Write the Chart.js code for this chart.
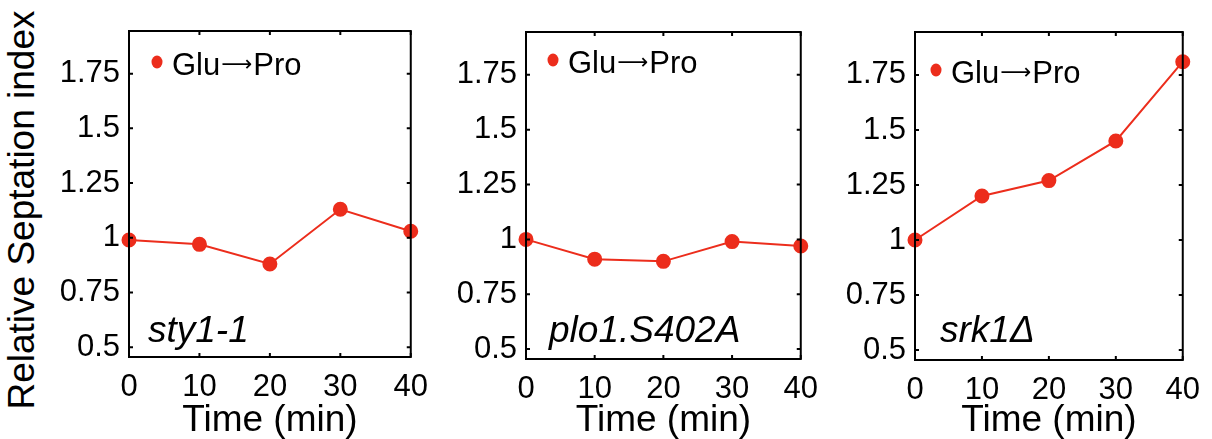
<!DOCTYPE html>
<html>
<head>
<meta charset="utf-8">
<script src="https://cdn.jsdelivr.net/npm/chart.js@4/dist/chart.umd.min.js"></script>
<style>
  body { margin: 0; background: #fff; }
  #wrap { position: relative; width: 1212px; height: 439px; overflow: hidden; }
  .panel { position: absolute; top: 0; height: 439px; }
  #ytitle {
    position: absolute; left: 22px; top: 210px;
    transform: translate(-50%, -50%) rotate(-90deg);
    font: 37px "Liberation Sans", Arial, Helvetica, sans-serif;
    white-space: nowrap; color: #000;
  }
</style>
</head>
<body>
<div id="wrap">
  <div id="ytitle">Relative Septation index</div>
  <canvas id="c1" class="panel"></canvas>
  <canvas id="c2" class="panel"></canvas>
  <canvas id="c3" class="panel"></canvas>
</div>
<script>
// data
var times = [0, 10, 20, 30, 40];
var sty1 = [0.99, 0.97, 0.88, 1.13, 1.03];
var plo1 = [1.00, 0.91, 0.90, 0.99, 0.97];
var srk1 = [1.00, 1.20, 1.27, 1.45, 1.81];
var strains = ['sty1-1', 'plo1.S402A', 'srk1\u0394'];
var seriesLabel = ['Glu', '\u27F6', 'Pro'];
var yTicks = [0.5, 0.75, 1, 1.25, 1.5, 1.75];
var yTickLabels = ['0.5', '0.75', '1', '1.25', '1.5', '1.75'];
var xTicks = [0, 10, 20, 30, 40];

var RED = '#ec2d1c';
var FONT = '"Liberation Sans", Arial, Helvetica, sans-serif';

// layout of each panel (canvas left/width and plot box)
var panels = [
  { id: 'c1', data: sty1, left: 40,  width: 400, box: { l: 129, r: 413, t: 31, b: 357 }, leg: { dx: 28, dy: 31 }, lab: { dx: 19 } },
  { id: 'c2', data: plo1, left: 440, width: 390, box: { l: 526, r: 811, t: 32, b: 359 }, leg: { dx: 27, dy: 28 }, lab: { dx: 23 } },
  { id: 'c3', data: srk1, left: 830, width: 382, box: { l: 915, r: 1199, t: 32, b: 360 }, leg: { dx: 21, dy: 38 }, lab: { dx: 25 } }
];

/*=============================================
=   box, inward ticks, legend and strain name  =
=============================================*/
var framePlugin = {
  id: 'frame',
  afterDatasetsDraw: function(chart, args, opts) {
    var ctx = chart.ctx, a = chart.chartArea;
    var xs = chart.scales.x, ys = chart.scales.y;
    var tl = 4;
    ctx.save();
    ctx.strokeStyle = '#000';
    ctx.lineWidth = 2;
    ctx.strokeRect(a.left, a.top, a.right - a.left, a.bottom - a.top);
    ctx.beginPath();
    xTicks.forEach(function(v) {
      var px = xs.getPixelForValue(v);
      ctx.moveTo(px, a.bottom); ctx.lineTo(px, a.bottom - tl);
      ctx.moveTo(px, a.top); ctx.lineTo(px, a.top + tl);
    });
    yTicks.forEach(function(v) {
      var py = ys.getPixelForValue(v);
      ctx.moveTo(a.left, py); ctx.lineTo(a.left + tl, py);
      ctx.moveTo(a.right, py); ctx.lineTo(a.right - tl, py);
    });
    ctx.stroke();

    // legend: marker + "Glu", long arrow, "Pro"
    var ds = chart.data.datasets[0];
    var mx = a.left + opts.leg.dx, my = a.top + opts.leg.dy;
    ctx.fillStyle = ds.borderColor;
    ctx.beginPath();
    ctx.ellipse(mx, my, 5.5, 6.5, 0, 0, Math.PI * 2);
    ctx.fill();
    ctx.fillStyle = '#000';
    ctx.textBaseline = 'alphabetic';
    var base = my + 13;
    var tx = mx + 15;
    ctx.font = '31px ' + FONT;
    ctx.fillText(seriesLabel[0], tx, base);
    tx += ctx.measureText(seriesLabel[0]).width + 1;
    // arrow sized to about 31px wide, centred on the cap height
    ctx.font = '30px "DejaVu Sans"';
    var w = ctx.measureText(seriesLabel[1]).width;
    var fs = 30 * 31 / w;
    ctx.font = fs + 'px "DejaVu Sans"';
    var m = ctx.measureText(seriesLabel[1]);
    var ay = base - 11 + (m.actualBoundingBoxAscent - m.actualBoundingBoxDescent) / 2;
    ctx.fillText(seriesLabel[1], tx, ay);
    tx += m.width + 1;
    ctx.font = '31px ' + FONT;
    ctx.fillText(seriesLabel[2], tx, base);

    // strain name
    ctx.font = 'italic 37px ' + FONT;
    ctx.fillText(opts.strain, a.left + opts.lab.dx, 342);
    ctx.restore();
  }
};

panels.forEach(function(p, i) {
  var cv = document.getElementById(p.id);
  cv.style.left = p.left + 'px';
  cv.style.width = p.width + 'px';
  cv.width = p.width;
  cv.height = 439;

  new Chart(cv, {
    type: 'line',
    data: {
      datasets: [{
        label: seriesLabel.join(''),
        data: times.map(function(t, k) { return { x: t, y: p.data[k] }; }),
        borderColor: RED,
        backgroundColor: RED,
        borderWidth: 2,
        pointRadius: 6.5,
        pointHoverRadius: 6.5,
        tension: 0,
        fill: false,
        clip: false
      }]
    },
    options: {
      responsive: false,
      animation: false,
      layout: { padding: { top: p.box.t, right: p.left + p.width - p.box.r, left: 0, bottom: 0 } },
      plugins: {
        legend: { display: false },
        tooltip: { enabled: false },
        frame: { leg: p.leg, lab: p.lab, strain: strains[i] }
      },
      scales: {
        x: {
          type: 'linear',
          min: 0, max: 40,
          afterBuildTicks: function(s) { s.ticks = xTicks.map(function(v) { return { value: v }; }); },
          afterFit: function(s) { s.height = 439 - p.box.b; },
          grid: { display: false, drawTicks: false },
          border: { display: false },
          ticks: { color: '#000', font: { family: FONT, size: 31 }, padding: 12, maxRotation: 0 },
          title: { display: true, text: 'Time (min)', color: '#000', font: { family: FONT, size: 37, lineHeight: 1.0 }, padding: 0 }
        },
        y: {
          min: 0.455, max: 1.945,
          afterBuildTicks: function(s) { s.ticks = yTicks.map(function(v) { return { value: v }; }); },
          afterFit: function(s) { s.width = p.box.l - p.left; },
          grid: { display: false, drawTicks: false },
          border: { display: false },
          ticks: {
            color: '#000', font: { family: FONT, size: 31 }, padding: 9,
            callback: function(v) { return yTickLabels[yTicks.indexOf(v)]; }
          }
        }
      }
    },
    plugins: [framePlugin]
  });
});
</script>
</body>
</html>
